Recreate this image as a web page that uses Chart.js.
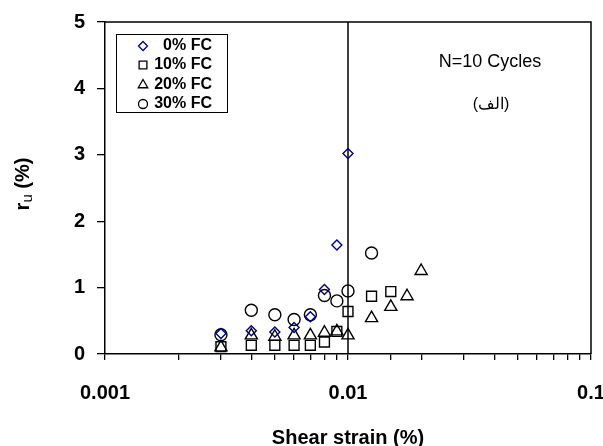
<!DOCTYPE html>
<html>
<head>
<meta charset="utf-8">
<script src="https://cdn.jsdelivr.net/npm/chart.js@4/dist/chart.umd.min.js"></script>
<style>
  html, body { margin: 0; padding: 0; background: #fff; }
  #wrap { width: 603px; height: 446px; }
</style>
</head>
<body>
<div id="wrap"><canvas id="myChart" width="603" height="446"></canvas></div>
<script>
// valores
var labels = ['0% FC', '10% FC', '20% FC', '30% FC'];

var strain0 = [0.003, 0.004, 0.005, 0.006, 0.007, 0.008, 0.009, 0.01];
var ru0 = [0.31, 0.35, 0.33, 0.40, 0.56, 0.97, 1.64, 3.02];

var strain10 = [0.003, 0.004, 0.005, 0.006, 0.007, 0.008, 0.009, 0.01, 0.0125, 0.015];
var ru10 = [0.11, 0.13, 0.13, 0.13, 0.13, 0.18, 0.34, 0.64, 0.87, 0.94];

var strain20 = [0.003, 0.004, 0.005, 0.006, 0.007, 0.008, 0.009, 0.01, 0.0125, 0.015, 0.0175, 0.02];
var ru20 = [0.10, 0.28, 0.26, 0.28, 0.28, 0.32, 0.34, 0.28, 0.54, 0.71, 0.87, 1.25];

var strain30 = [0.003, 0.004, 0.005, 0.006, 0.007, 0.008, 0.009, 0.01, 0.0125];
var ru30 = [0.29, 0.66, 0.59, 0.52, 0.59, 0.88, 0.80, 0.95, 1.52];

var refStrain = [0.01, 0.01];
var refRu = [0, 5];

var xMajorTicks = [0.001, 0.01, 0.1];
var yTicks = [0, 1, 2, 3, 4, 5];

var FONT = "'Liberation Sans', Arial, sans-serif";

function toPoints(xs, ys){
    var pts = [];
    for (var i = 0; i < xs.length; i++) {
        pts.push({x: xs[i], y: ys[i]});
    }
    return pts;
}

var styles = [
    {pointStyle: 'rectRot', radius: 5, color: '#000080', legendRadius: 4.5},
    {pointStyle: 'rect', radius: 7, color: '#000', legendRadius: 5.5},
    {pointStyle: 'triangle', radius: 7, color: '#000', legendRadius: 5.5},
    {pointStyle: 'circle', radius: 6, color: '#000', legendRadius: 4.5}
];
var series = [[strain0, ru0], [strain10, ru10], [strain20, ru20], [strain30, ru30]];

var datasets = [];
for (var s = 0; s < series.length; s++) {
    datasets.push({
        type: 'scatter',
        label: labels[s],
        data: toPoints(series[s][0], series[s][1]),
        showLine: false,
        pointStyle: styles[s].pointStyle,
        pointRadius: styles[s].radius,
        pointHoverRadius: styles[s].radius,
        pointBorderColor: styles[s].color,
        pointBackgroundColor: 'rgba(0,0,0,0)',
        pointBorderWidth: 1.4
    });
}
datasets.push({
    type: 'line',
    label: 'ref',
    data: toPoints(refStrain, refRu),
    borderColor: '#000',
    borderWidth: 1.5,
    pointRadius: 0,
    fill: false
});

// marco, leyenda y textos
var extras = {
    id: 'extras',
    afterDraw: function(chart){
        var c = chart.ctx;
        var a = chart.chartArea;
        c.save();
        c.strokeStyle = '#000';
        c.lineWidth = 1.5;
        c.beginPath();
        c.moveTo(a.left, a.top);
        c.lineTo(a.right, a.top);
        c.lineTo(a.right, a.bottom);
        c.stroke();

        // leyenda
        c.lineWidth = 1;
        c.strokeRect(116.5, 34.5, 111, 78);
        var rows = [46, 65, 85, 104];
        c.font = 'bold 16px ' + FONT;
        c.textAlign = 'right';
        c.textBaseline = 'middle';
        for (var i = 0; i < labels.length; i++) {
            c.strokeStyle = styles[i].color;
            c.fillStyle = 'rgba(0,0,0,0)';
            c.lineWidth = 1.3;
            Chart.helpers.drawPoint(c, {
                pointStyle: styles[i].pointStyle,
                radius: styles[i].legendRadius,
                rotation: 0,
                borderWidth: 1.3
            }, 143, rows[i]);
            c.fillStyle = '#000';
            c.fillText(labels[i], 212, rows[i]);
        }

        c.fillStyle = '#000';
        c.textAlign = 'center';
        c.font = '18px ' + FONT;
        c.fillText('N=10 Cycles', 490, 62);
        c.font = '16px ' + FONT;
        c.fillText('(الف)', 491, 105);

        // titulo eje y con subindice
        c.translate(22, 184);
        c.rotate(-Math.PI / 2);
        c.textAlign = 'left';
        c.textBaseline = 'alphabetic';
        c.font = 'bold 20px ' + FONT;
        var w1 = c.measureText('r').width;
        c.font = '15px ' + FONT;
        var w2 = c.measureText('u').width;
        c.font = 'bold 20px ' + FONT;
        var w3 = c.measureText(' (%)').width;
        var x0 = -(w1 + w2 + w3) / 2;
        c.fillText('r', x0, 7);
        c.font = '15px ' + FONT;
        c.fillText('u', x0 + w1, 10);
        c.font = 'bold 20px ' + FONT;
        c.fillText(' (%)', x0 + w1 + w2, 7);
        c.restore();
    }
};

var ctx = document.getElementById('myChart').getContext('2d');
var myChart = new Chart(ctx, {
    data: {datasets: datasets},
    options: {
        responsive: false,
        animation: false,
        events: [],
        layout: {padding: {left: 0, right: 12, top: 22, bottom: 0}},
        plugins: {
            legend: {display: false},
            tooltip: {enabled: false}
        },
        scales: {
            x: {
                type: 'logarithmic',
                min: 0.001,
                max: 0.1,
                border: {display: true, color: '#000', width: 1.5},
                grid: {drawOnChartArea: false, drawTicks: true, tickLength: 6, color: '#000', lineWidth: 1.3},
                ticks: {
                    autoSkip: false,
                    maxRotation: 0,
                    padding: 21,
                    color: '#000',
                    font: {family: FONT, size: 20, weight: 'bold'},
                    callback: function(value){
                        for (var i = 0; i < xMajorTicks.length; i++) {
                            if (Math.abs(value - xMajorTicks[i]) < xMajorTicks[i] * 1e-6) return String(xMajorTicks[i]);
                        }
                        return '';
                    }
                },
                title: {
                    display: true,
                    text: 'Shear strain (%)',
                    color: '#000',
                    font: {family: FONT, size: 20, weight: 'bold'},
                    padding: {top: 0, bottom: -4}
                },
                afterFit: function(scale){
                    scale.height = 92;
                    scale.paddingLeft = 0;
                    scale.paddingRight = 0;
                }
            },
            y: {
                min: 0,
                max: 5,
                border: {display: true, color: '#000', width: 1.5},
                grid: {drawOnChartArea: false, drawTicks: true, tickLength: 8, color: '#000', lineWidth: 1.3},
                afterBuildTicks: function(scale){
                    scale.ticks = yTicks.map(function(v){ return {value: v}; });
                },
                ticks: {
                    padding: 12,
                    color: '#000',
                    font: {family: FONT, size: 20, weight: 'bold'}
                },
                afterFit: function(scale){
                    scale.width = 105;
                    scale.paddingTop = 0;
                    scale.paddingBottom = 0;
                }
            }
        }
    },
    plugins: [extras]
});
</script>
</body>
</html>
